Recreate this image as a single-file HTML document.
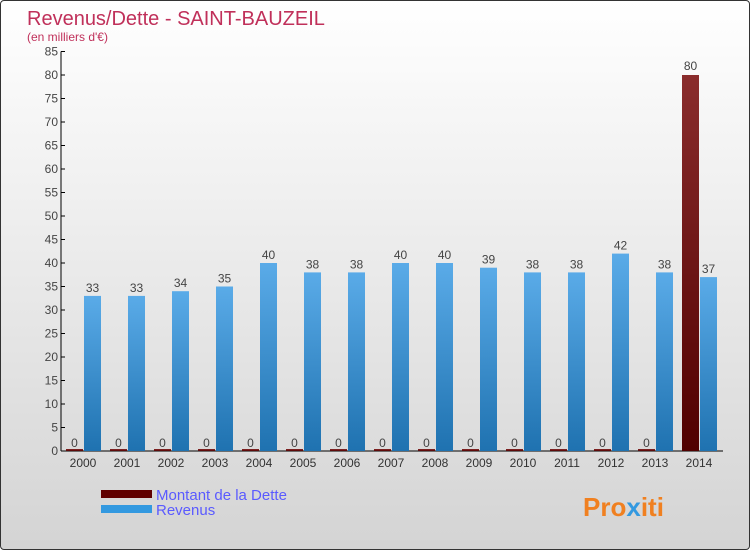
<!DOCTYPE html>
<html><head><meta charset="utf-8"><style>
body{margin:0}
#c{width:750px;height:550px;position:relative;overflow:hidden;box-sizing:border-box;border:1px solid #333;border-radius:4px;background:linear-gradient(#ffffff,#d4d4d4);font-family:"Liberation Sans",sans-serif}
</style></head><body>
<div id="c">
<svg id="s" width="750" height="550">
<text x="26" y="24" font-size="20" fill="#c0305a">Revenus/Dette - SAINT-BAUZEIL</text>
<text x="26" y="40" font-size="12" fill="#c0305a">(en milliers d'€)</text>
<g>
<rect x="100" y="489" width="51" height="8" fill="#600000"/>
<text x="155" y="499" font-size="15" fill="#5a5aff">Montant de la Dette</text>
<rect x="100" y="504" width="51" height="8" fill="#3399e0"/>
<text x="155" y="514" font-size="15" fill="#5a5aff">Revenus</text>
</g>
<text x="582" y="515" font-size="26" font-weight="bold" fill="#f08020">Pro<tspan fill="#3399e0">x</tspan>iti</text>
</svg>
</div>
<script>
const years=["2000","2001","2002","2003","2004","2005","2006","2007","2008","2009","2010","2011","2012","2013","2014"];
const dette=[0,0,0,0,0,0,0,0,0,0,0,0,0,0,80];
const revenus=[33,33,34,35,40,38,38,40,40,39,38,38,42,38,37];
const ticks=[0,5,10,15,20,25,30,35,40,45,50,55,60,65,70,75,80,85];
const s=document.getElementById('s');
const NS="http://www.w3.org/2000/svg";
const y=v=>450-v*4.7;
const x=i=>82+i*44;
function mk(t,a){const e=document.createElementNS(NS,t);for(const k in a)e.setAttribute(k,a[k]);s.appendChild(e);return e;}
const defs=mk('defs',{});
defs.innerHTML='<linearGradient id="gb" x1="0" y1="0" x2="0" y2="1"><stop offset="0" stop-color="#5aabe8"/><stop offset="1" stop-color="#1f72b0"/></linearGradient><linearGradient id="gd" x1="0" y1="0" x2="0" y2="1"><stop offset="0" stop-color="#8a2c2c"/><stop offset="1" stop-color="#500000"/></linearGradient>';
const ax=mk('line',{x1:60,y1:y(85),x2:60,y2:450,stroke:'#000'});


const bx=mk('line',{x1:60,y1:450,x2:722,y2:450,stroke:'#000'});


ticks.forEach(v=>{
const l=mk('line',{x1:60,y1:y(v),x2:64,y2:y(v),stroke:'#000'});


const t=mk('text',{x:57,y:y(v)+4,'font-size':12,fill:'#444','text-anchor':'end'});
t.textContent=v;


});
years.forEach((yr,i)=>{
const c=x(i);
const d=dette[i];
const r1=mk('rect',{x:c-17,y:y(d)-(d?0:2),width:17,height:d*4.7+(d?0:2),fill:'url(#gd)'});


const t1=mk('text',{x:c-8.5,y:y(d)-(d?5:4),'font-size':12,fill:'#444','text-anchor':'middle'});
t1.textContent=d;


const r=revenus[i];
const r2=mk('rect',{x:c+1,y:y(r),width:17,height:r*4.7,fill:'url(#gb)'});


const t2=mk('text',{x:c+9.5,y:y(r)-4,'font-size':12,fill:'#444','text-anchor':'middle'});
t2.textContent=r;


const tl=mk('text',{x:c,y:466,'font-size':12,fill:'#333','text-anchor':'middle'});
tl.textContent=yr;


});
</script>
</body></html>
